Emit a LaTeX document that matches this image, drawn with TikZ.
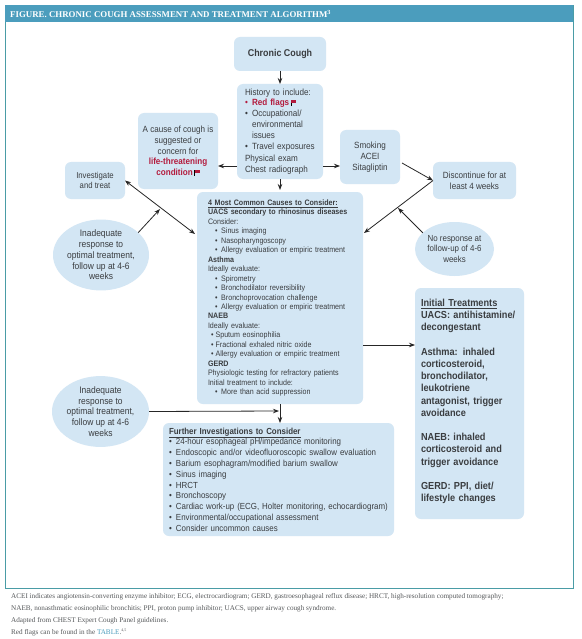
\documentclass[tikz,border=0pt]{standalone}
\usepackage{fontspec}
\setmainfont[FakeStretch=0.9]{Liberation Sans}
\newfontfamily\capsfont{Liberation Serif}
\usetikzlibrary{positioning, calc, shapes.geometric, arrows.meta}

\definecolor{boxblue}{HTML}{D3E6F4}
\definecolor{barblue}{HTML}{4B9DBD}
\definecolor{frameteal}{HTML}{4A9CA6}
\definecolor{bodygrey}{HTML}{3A3D40}
\definecolor{flagred}{HTML}{B31B3D}
\definecolor{notegrey}{HTML}{55585A}

\newcommand{\redflag}{\,{\color{black}\rule[-0.2pt]{0.7pt}{6.4pt}}\textcolor{flagred}{\rule[2.4pt]{4.6pt}{3.8pt}}}
\newcommand{\bul}{\makebox[7pt][l]{\textbullet}}
\newcommand{\inbul}{\hspace*{7pt}\makebox[6.2pt][l]{\textbullet}}
\newcommand{\nabul}{\hspace*{3pt}\makebox[4.6pt][l]{\textbullet}}

\begin{document}
\begin{tikzpicture}[x=1pt, y=-1pt, >={Stealth[length=6pt,width=4.5pt]},
    box/.style={fill=boxblue, rounded corners=6pt, inner sep=0pt, outer sep=0pt,
      text=bodygrey, align=center, font=\fontsize{9}{10.8}\selectfont},
    bubble/.style={ellipse, fill=boxblue, inner sep=0pt, outer sep=0pt,
      text=bodygrey, align=center, font=\fontsize{9.4}{10.8}\selectfont},
    link/.style={->, draw=black!85, line width=0.8pt}]

  \useasboundingbox (0,0) rectangle (581,639);
  \fill[white] (0,0) rectangle (581,639);

  % frame and title
  \node[draw=frameteal, line width=0.8pt, inner sep=0pt, minimum width=568pt, minimum height=583pt] (frame) at (289,296.5) {};
  \node[fill=barblue, inner sep=0pt, minimum width=568pt, minimum height=17pt] (bar) at (289,13.5) {};
  \node[anchor=west, text=white, inner sep=0pt, font=\capsfont\bfseries\fontsize{8.85}{10}\selectfont] (title) at (10,14)
    {FIGURE. CHRONIC COUGH ASSESSMENT AND TREATMENT ALGORITHM\textsuperscript{3}};

  % upper row
  \node[box, minimum width=92pt, minimum height=34pt, font=\bfseries\fontsize{9.9}{10.8}\selectfont] (cough) at (280,54) {Chronic Cough};
  \node[box, minimum width=86pt, minimum height=95pt, text width=70pt, inner xsep=8pt, align=left] (history) at (280,131.5)
    {History to include:\\
     \textcolor{flagred}{\bul\textbf{Red flags}\redflag}\\
     \bul Occupational/\\
     \hspace*{7pt}environmental\\
     \hspace*{7pt}issues\\
     \bul Travel exposures\\[2pt]
     Physical exam\\
     Chest radiograph};
  \node[box, minimum width=80pt, minimum height=76pt] (suspect) at (178,151)
    {A cause of cough is\\suggested or\\concern for\\
     \textcolor{flagred}{\textbf{life-threatening}}\\
     \textcolor{flagred}{\textbf{condition}\redflag}};
  \node[box, minimum width=60pt, minimum height=37pt, font=\fontsize{8.6}{10.8}\selectfont] (treat) at (95,180.5) {Investigate\\and treat};
  \node[box, minimum width=60pt, minimum height=54pt] (smoking) at (370,157) {Smoking\\ACEI\\Sitagliptin};
  \node[box, minimum width=83pt, minimum height=37pt] (stopdrug) at (474.5,180.5) {Discontinue for at\\least 4 weeks};

  % response bubbles
  \node[bubble, minimum width=96pt, minimum height=66pt] (inadtop) at (101,255)
    {Inadequate\\response to\\optimal treatment,\\follow up at 4-6\\weeks};
  \node[bubble, minimum width=79pt, minimum height=54pt, font=\fontsize{8.8}{10.8}\selectfont] (noresp) at (454.5,249)
    {No response at\\follow-up of 4-6\\weeks};
  \node[bubble, minimum width=97pt, minimum height=67pt] (inadlow) at (100.5,411.5)
    {Inadequate\\response to\\optimal treatment,\\follow up at 4-6\\weeks};

  % main boxes
  \node[box, minimum width=166pt, minimum height=212pt, text width=144pt, inner xsep=11pt, align=left,
    font=\fontsize{7.9}{9.45}\selectfont] (causes) at (280,298)
    {\textbf{\underline{4 Most Common Causes to Consider:}}\\
     \textbf{UACS secondary to rhinosinus diseases}\\
     Consider:\\
     \inbul Sinus imaging\\
     \inbul Nasopharyngoscopy\\
     \inbul Allergy evaluation or empiric treatment\\
     \textbf{Asthma}\\
     Ideally evaluate:\\
     \inbul Spirometry\\
     \inbul Bronchodilator reversibility\\
     \inbul Bronchoprovocation challenge\\
     \inbul Allergy evaluation or empiric treatment\\
     \textbf{NAEB}\\
     Ideally evaluate:\\
     \nabul Sputum eosinophilia\\
     \nabul Fractional exhaled nitric oxide\\
     \nabul Allergy evaluation or empiric treatment\\
     \textbf{GERD}\\
     Physiologic testing for refractory patients\\
     Initial treatment to include:\\
     \inbul More than acid suppression};
  \node[box, minimum width=109pt, minimum height=231pt, text width=100pt, inner xsep=4.5pt, align=left,
    font=\bfseries\fontsize{10.2}{12.2}\selectfont] (initial) at (469.5,403.5)
    {\hspace*{1.5pt}\underline{Initial Treatments}\\
     \hspace*{1.5pt}UACS: antihistamine/\\
     \hspace*{1.5pt}decongestant\\[12.2pt]
     \hspace*{1.5pt}Asthma: inhaled\\
     \hspace*{1.5pt}corticosteroid,\\
     \hspace*{1.5pt}bronchodilator,\\
     \hspace*{1.5pt}leukotriene\\
     \hspace*{1.5pt}antagonist, trigger\\
     \hspace*{1.5pt}avoidance\\[12.2pt]
     \hspace*{1.5pt}NAEB: inhaled\\
     \hspace*{1.5pt}corticosteroid and\\
     \hspace*{1.5pt}trigger avoidance\\[12.2pt]
     \hspace*{1.5pt}GERD: PPI, diet/\\
     \hspace*{1.5pt}lifestyle changes\\[-6pt]\mbox{}};
  \node[box, minimum width=231pt, minimum height=113pt, text width=225pt, inner xsep=3pt, align=left,
    font=\fontsize{8.8}{10.8}\selectfont] (further) at (278.5,479.5)
    {\hspace*{3pt}\textbf{\underline{Further Investigations to Consider}}\\
     \hspace*{3pt}\bul 24-hour esophageal pH/impedance monitoring\\
     \hspace*{3pt}\bul Endoscopic and/or videofluoroscopic swallow evaluation\\
     \hspace*{3pt}\bul Barium esophagram/modified barium swallow\\
     \hspace*{3pt}\bul Sinus imaging\\
     \hspace*{3pt}\bul HRCT\\
     \hspace*{3pt}\bul Bronchoscopy\\
     \hspace*{3pt}\bul Cardiac work-up (ECG, Holter monitoring, echocardiogram)\\
     \hspace*{3pt}\bul Environmental/occupational assessment\\
     \hspace*{3pt}\bul Consider uncommon causes};

  % footnotes
  \node[anchor=north west, inner sep=0pt, align=left, text=notegrey, font=\capsfont\fontsize{7.17}{12}\selectfont] (notes) at (11,593.5)
    {ACEI indicates angiotensin-converting enzyme inhibitor; ECG, electrocardiogram; GERD, gastroesophageal reflux disease; HRCT, high-resolution computed tomography;\\
     NAEB, nonasthmatic eosinophilic bronchitis; PPI, proton pump inhibitor; UACS, upper airway cough syndrome.\\
     Adapted from CHEST Expert Cough Panel guidelines.\\
     Red flags can be found in the \textcolor{barblue}{TABLE}.\textsuperscript{\fontsize{4}{4}\selectfont 4,5}};

  \coordinate (histleft) at (237,166);
  \coordinate (histright) at (323,166);
  \coordinate (causesleft) at (195,234);
  \coordinate (causesright) at (364,233);
  \coordinate (leftjoin) at (160,209);
  \coordinate (rightjoin) at (398,208);
  \coordinate (causesout) at (363,345);
  \coordinate (lowjoin) at (279,411);
  \coordinate (smokeout) at (402,163);

  \draw[link] (cough) -- (history);
  \draw[link] (history.south) -- ++(0,11);
  \draw[link] (histleft) -- (histleft -| suspect.east);
  \draw[link] (histright) -- (histright -| smoking.west);
  \draw[link] (smokeout) -- (stopdrug.west);
  \draw[link] (stopdrug.west) -- (causesright);
  \draw[link] (noresp.153) -- (rightjoin);
  \draw[link, <->] (treat.east) -- (causesleft);
  \draw[link] (inadtop.31) -- (leftjoin);
  \draw[link] (causesout) -- (causesout -| initial.west);
  \draw[link] (inadlow.east) -- (lowjoin);
  \draw[link] (causes.south) -- (causes.south |- further.north);
\end{tikzpicture}
\end{document}
